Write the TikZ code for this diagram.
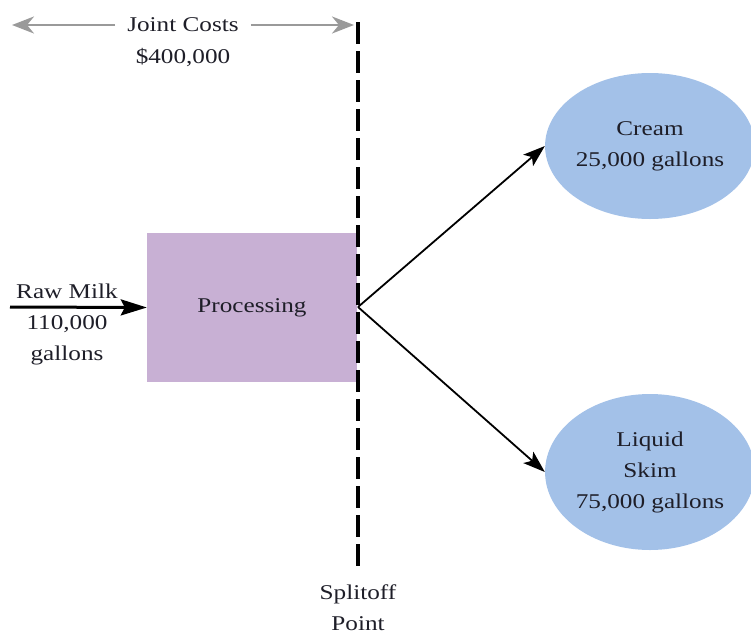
\documentclass[tikz,border=0pt]{standalone}
\usepackage{fontspec}
\setmainfont{Liberation Serif}[FakeStretch=1.2]
\usetikzlibrary{arrows.meta,shapes.geometric}
\definecolor{procpurple}{HTML}{C8B0D4}
\definecolor{prodblue}{HTML}{A3C1E8}
\definecolor{costgray}{HTML}{9A9A9A}
\definecolor{inktext}{HTML}{1E1E28}

\begin{document}
\begin{tikzpicture}[x=1pt, y=-1pt, >=Stealth,
    every node/.style={font=\fontsize{21}{31}\selectfont, align=center, text=inktext},
    product/.style={ellipse, fill=prodblue, minimum width=196pt, minimum height=146pt, inner sep=0pt},
    flow/.style={->, line width=1.8pt, >={Stealth[length=22pt, width=15pt, inset=5pt]}},
    inflow/.style={->, line width=3pt, >={Stealth[length=26pt, width=16pt, inset=4pt]}},
    costarrow/.style={->, costgray, line width=2.6pt, >={Stealth[length=22pt, width=17pt, inset=7pt]}},
    splitline/.style={line width=3.2pt, dash pattern=on 22pt off 7pt}]
    \useasboundingbox (0,0) rectangle (751,640);

    \coordinate (split) at (358,307);
    \coordinate (splittop) at (358,22);
    \coordinate (splitbot) at (358,573);
    \coordinate (milkin) at (10,307);
    \coordinate (costL) at (12,25);
    \coordinate (costR) at (354,25);

    \node[fill=procpurple, minimum width=210pt, minimum height=149pt] (proc) at (252,307.5) {Processing};
    \node[product] (cream) at (650,146) {Cream\\25,000 gallons};
    \node[product, minimum height=156pt] (skim) at (650,472) {Liquid\\Skim\\75,000 gallons};

    \node[inner xsep=12pt] (jc) at (183,25) {Joint Costs};
    \node (jcval) at (183,58) {\$400,000};
    \draw[costarrow] (jc.west) -- (costL);
    \draw[costarrow] (jc.east) -- (costR);

    \node (rawlbl) at (67,291) {Raw Milk};
    \node (rawqty) at (67,340) {110,000\\gallons};
    \draw[inflow] (milkin) -- (proc.west);

    \draw[splitline] (splittop) -- (splitbot);
    \node (splitlbl) at (358,608) {Splitoff\\Point};

    \draw[flow] (split) -- (cream.west);
    \draw[flow] (split) -- (skim.west);
\end{tikzpicture}
\end{document}
